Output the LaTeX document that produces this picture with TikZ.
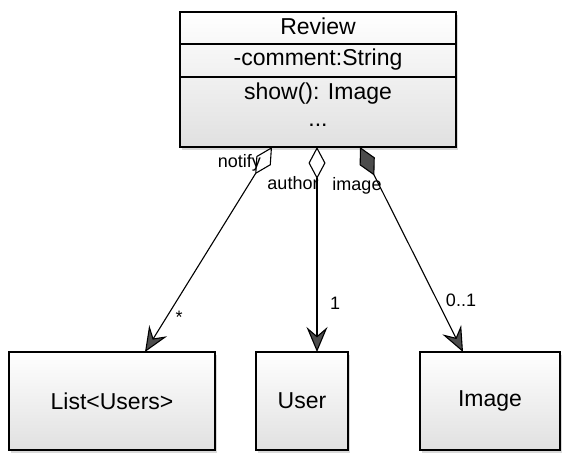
\documentclass[tikz,border=0pt]{standalone}
\usepackage{fontspec}
\setmainfont{Liberation Sans}
\usetikzlibrary{arrows.meta,shadows}
\tikzset{
  classbox/.style={draw=black, line width=1.3pt, top color=white, bottom color=black!12,
    drop shadow={shadow xshift=2pt, shadow yshift=-3pt, fill=black!25, opacity=0.6},
    inner sep=0pt},
  big/.style={font=\fontsize{23}{25}\selectfont},
  small/.style={font=\fontsize{18}{20}\selectfont, inner sep=1pt},
  endtip/.tip={Stealth[length=25pt,width=21pt,inset=9pt,fill=black!70]},
  aggr/.style={line width=1.1pt, {Diamond[open,length=32pt,width=17pt,fill=white]}-endtip},
  comp/.style={line width=1.1pt, {Diamond[length=32pt,width=17pt,fill=black!70]}-endtip},
}
\begin{document}
\begin{tikzpicture}[x=1pt,y=1pt]
\useasboundingbox (0,0) rectangle (569,459);
% Review class
\node[classbox, minimum width=276pt, minimum height=135pt] (review) at (318,379.5) {};
\draw[line width=1.3pt] (review.west |- 0,415) -- (review.east |- 0,415);
\draw[line width=1.3pt] (review.west |- 0,382) -- (review.east |- 0,382);
\node[big] (rname) at (318,433) {Review};
\node[big] (rattr) at (318,399) {-comment:String};
\node[big] (rop) at (318,365) {show(): Image};
\node[big] (rdots) at (318,334) {...};
% bottom classes
\node[classbox, minimum width=206pt, minimum height=98pt, big] (list) at (112,58) {List<Users>};
\node[classbox, minimum width=92pt, minimum height=98pt, big] (user) at (302,58) {User};
\node[classbox, minimum width=140pt, minimum height=98pt, big] (image) at (490,58) {Image};
% connector endpoints
\coordinate (s1) at (272,312);
\coordinate (e1) at (145,107);
\coordinate (s2) at (317,312);
\coordinate (e2) at (317,107);
\coordinate (s3) at (360,312);
\coordinate (e3) at (463,107);
\draw[aggr] (s1) -- (e1);
\draw[aggr] (s2) -- (e2);
\draw[comp] (s3) -- (e3);
% labels
\node[small, anchor=east] (lnotify) at (262,296) {notify};
\node[small] (lauthor) at (293,276) {author};
\node[small] (limage) at (357,273) {image};
\node[small] (lstar) at (179,142) {*};
\node[small] (lone) at (335,156) {1};
\node[small] (lzero) at (461,159) {0..1};
\end{tikzpicture}
\end{document}
